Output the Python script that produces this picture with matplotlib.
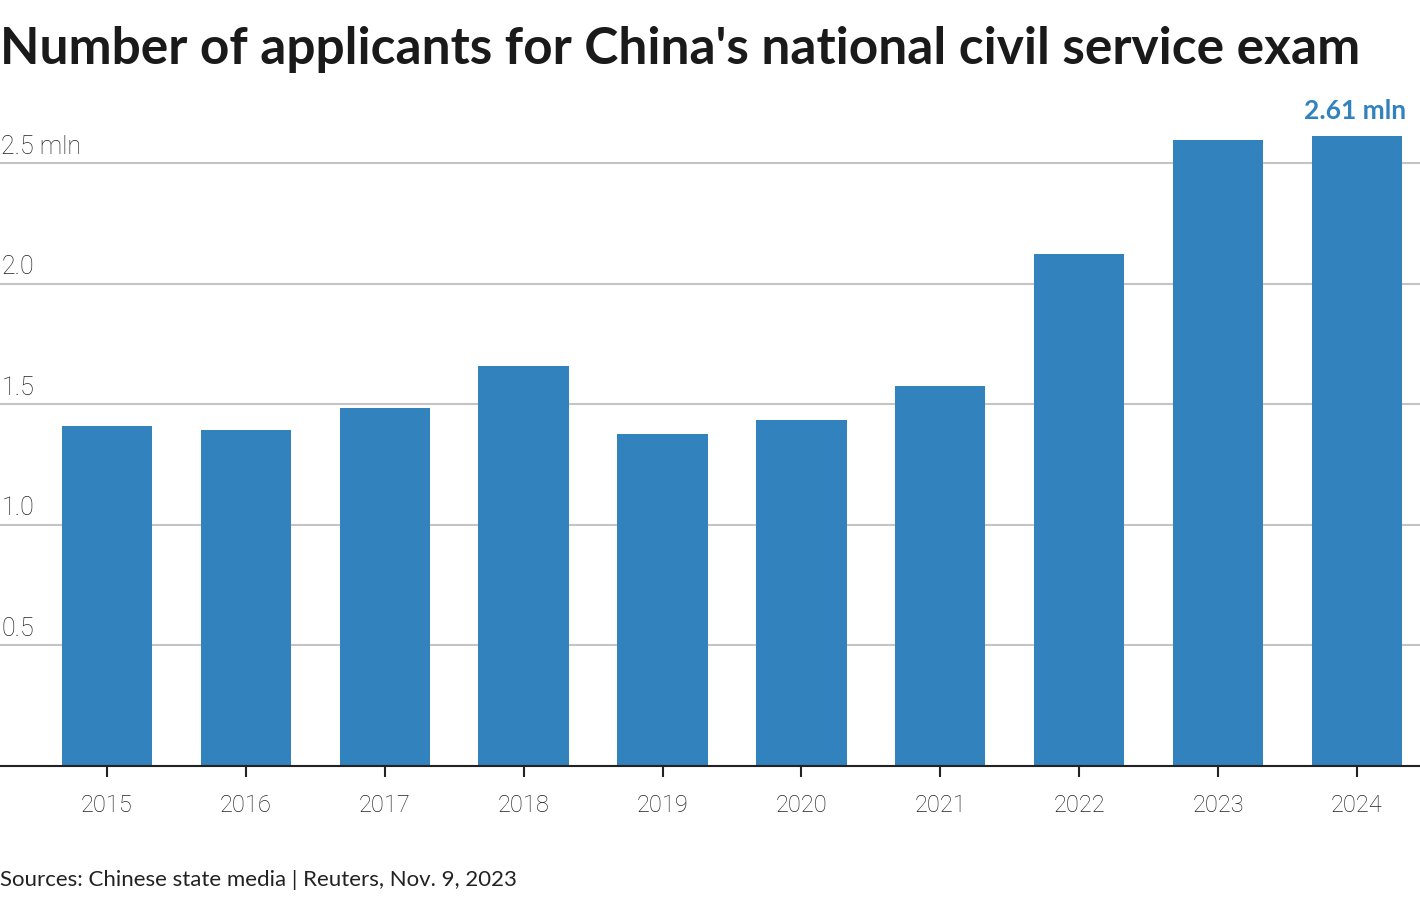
import numpy as np
import matplotlib.pyplot as plt

years = ['2015', '2016', '2017', '2018', '2019', '2020', '2021', '2022', '2023', '2024']
applicants = [1.41, 1.393, 1.484, 1.658, 1.376, 1.434, 1.575, 2.123, 2.595, 2.61]
y_ticks = [0.5, 1.0, 1.5, 2.0, 2.5]
y_tick_labels = ['0.5', '1.0', '1.5', '2.0', '2.5 mln']

bar_color = '#3182bd'
plt.rcParams['font.family'] = ['Lato', 'DejaVu Sans']
light = ['Roboto', 'DejaVu Sans']

fig = plt.figure(figsize=(14.2, 9), dpi=100)
ax = fig.add_axes([0, 0.1489, 1.0, 0.737])

x = np.arange(len(years))
ax.bar(x, applicants, width=0.65, color=bar_color, zorder=3)

ax.set_xlim(-0.77, len(years) - 1 + 0.454)
ax.set_ylim(0, 2.75)

# gridlines with labels sitting above them
for v, lab in zip(y_ticks, y_tick_labels):
    ax.axhline(v, color='#c4c4c4', lw=1.5, zorder=1)
    ax.text(0.001, v + 0.018, lab, transform=ax.get_yaxis_transform(),
            ha='left', va='bottom', fontsize=18, fontweight='light',
            family=light, color='#222222')

ax.set_yticks([])
ax.set_xticks(x)
ax.set_xticklabels(years, fontsize=17, fontweight='light', family=light, color='#222222')
ax.tick_params(axis='x', length=8, width=1.5, color='#222222', pad=12)

for s in ['top', 'right', 'left']:
    ax.spines[s].set_visible(False)
ax.spines['bottom'].set_color('#222222')
ax.spines['bottom'].set_linewidth(1.5)
ax.spines['bottom'].set_zorder(4)

# label on the last bar
ax.annotate('2.61 mln', xy=(x[-1], applicants[-1]), xytext=(0.99, applicants[-1] + 0.055),
            textcoords=('axes fraction', 'data'), ha='right', va='bottom',
            fontsize=19, fontweight='bold', color=bar_color)

fig.text(0.0, 0.945, "Number of applicants for China's national civil service exam",
         ha='left', va='center', fontsize=37, fontweight='bold', color='#1a1a1a')
fig.text(0.0, 0.022, 'Sources: Chinese state media | Reuters, Nov. 9, 2023',
         ha='left', va='center', fontsize=16, color='#222222')

fig.savefig('out.png', dpi=100)
